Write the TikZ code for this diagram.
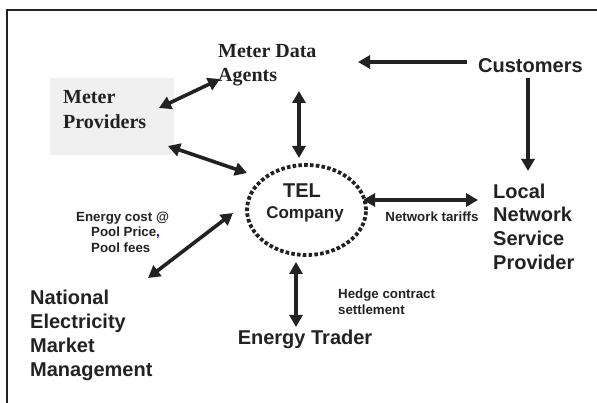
\documentclass[tikz,border=0pt]{standalone}
\usepackage{fontspec}
\setmainfont{Liberation Sans}
\newfontfamily\serifbold{Liberation Serif}
\usetikzlibrary{arrows.meta,shapes.geometric}
\definecolor{ink}{HTML}{222222}
\definecolor{boxgray}{HTML}{F0F0F0}

\begin{document}
\begin{tikzpicture}[x=1pt,y=-1pt,
  txt/.style={inner sep=0pt, text=ink, align=left, anchor=north west},
  bigsans/.style={txt, font=\fontsize{20}{23.8}\selectfont\bfseries},
  bigserif/.style={txt, font=\fontsize{20}{24.5}\selectfont\serifbold\bfseries},
  smallsans/.style={txt, font=\fontsize{13.3}{15.5}\selectfont\bfseries},
  flow/.style={draw=ink, line width=3.6pt,
    {Triangle[length=12pt,width=13pt]}-{Triangle[length=12pt,width=13pt]}},
  oneway/.style={draw=ink, line width=3.6pt, -{Triangle[length=12pt,width=13pt]}},
  hub/.style={draw=ink, line width=3.8pt, dash pattern=on 3.6pt off 2.2pt,
    ellipse, minimum width=119pt, minimum height=90pt, inner sep=0pt}
]
\useasboundingbox (0,0) rectangle (597,403);

% page frame (top and left edges)
\draw[ink, line width=1.3pt] (7,403) -- (7,10) -- (597,10);

% parties
\node[fill=boxgray, minimum width=124pt, minimum height=77pt, inner sep=0pt,
      anchor=north west] (mpbox) at (50,78) {};
\node[bigserif] (mp) at (63,90.5) {Meter\\Providers};
\node[bigserif] (mda) at (218,44) {Meter Data\\Agents};
\node[bigsans] (cust) at (478,58.5) {Customers};
\node[bigsans] (lnsp) at (493,183.5) {Local\\Network\\Service\\Provider};
\node[bigsans] (nemm) at (30,290) {National\\Electricity\\Market\\Management};
\node[bigsans, anchor=north] (et) at (305,330) {Energy Trader};

% central company
\node[hub] (tel) at (306.5,210) {};
\node[txt, anchor=north, font=\fontsize{20}{24}\selectfont\bfseries] (telname) at (302,183.5) {TEL};
\node[txt, anchor=north, font=\fontsize{17}{20}\selectfont\bfseries] (telco) at (305,206) {Company};

% flow labels
\node[smallsans, anchor=north] (tariffs) at (432,211.5) {Network tariffs};
\node[smallsans] (poolcost) at (91,211.5) {\hspace*{-15pt}Energy cost @\\Pool Price{\color{blue},}\\Pool fees};
\node[smallsans] (hedge) at (338,289) {Hedge contract\\settlement};

% connector end points
\coordinate (mp-a) at (159,108);   \coordinate (mda-a) at (220,79);
\coordinate (mp-b) at (168,146);   \coordinate (tel-a) at (247,173);
\coordinate (mda-b) at (299,91);   \coordinate (tel-b) at (299,158);
\coordinate (cust-a) at (467,62);  \coordinate (mda-c) at (358,62);
\coordinate (cust-b) at (528,78);  \coordinate (lnsp-a) at (528,171);
\coordinate (tel-c) at (363,200);  \coordinate (lnsp-b) at (478,200);
\coordinate (nemm-a) at (148,278); \coordinate (tel-d) at (233,213);
\coordinate (tel-e) at (296,262);  \coordinate (et-a) at (296,327);

% flows
\draw[flow] (mp-a) -- (mda-a);
\draw[flow] (mp-b) -- (tel-a);
\draw[flow] (mda-b) -- (tel-b);
\draw[oneway] (cust-a) -- (mda-c);
\draw[oneway] (cust-b) -- (lnsp-a);
\draw[flow] (tel-c) -- (lnsp-b);
\draw[flow] (nemm-a) -- (tel-d);
\draw[flow] (tel-e) -- (et-a);
\end{tikzpicture}
\end{document}
